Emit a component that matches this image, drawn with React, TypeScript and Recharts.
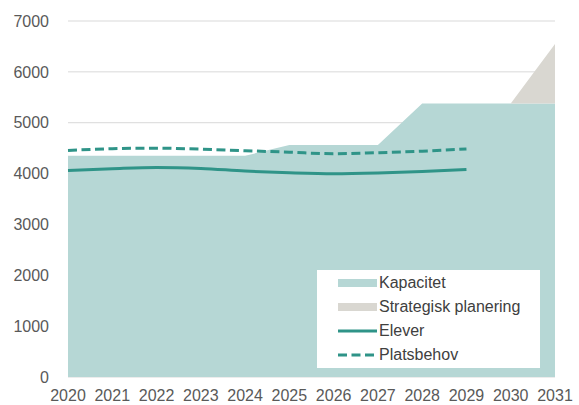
import { ComposedChart, Area, Line, XAxis, YAxis, CartesianGrid } from "recharts"

const years = [2020, 2021, 2022, 2023, 2024, 2025, 2026, 2027, 2028, 2029, 2030, 2031]
const kapacitet = [4350, 4350, 4350, 4350, 4350, 4560, 4560, 4560, 5380, 5380, 5380, 5380]
const strategisk = [0, 0, 0, 0, 0, 0, 0, 0, 0, 0, 0, 1170]
const elever = [4060, 4095, 4120, 4100, 4050, 4015, 3995, 4010, 4040, 4080, null, null]
const platsbehov = [4455, 4490, 4500, 4480, 4450, 4420, 4390, 4410, 4440, 4485, null, null]
const yTicks = [0, 1000, 2000, 3000, 4000, 5000, 6000, 7000]

const seriesNames = ["Kapacitet", "Strategisk planering", "Elever", "Platsbehov"]

const AREA_COLOR = "#b6d7d5"
const PLAN_COLOR = "#d9d7d1"
const LINE_COLOR = "#2f9488"
const FONT = "'Liberation Sans', Arial, sans-serif"

const data = years.map((year, i) => ({
  year: String(year),
  kapacitet: kapacitet[i],
  strategisk: strategisk[i],
  elever: elever[i],
  platsbehov: platsbehov[i],
}))

function LegendIcon({ index }: { index: number }) {
  if (index === 0) return <div style={{ width: 39, height: 8, background: AREA_COLOR }} />
  if (index === 1) return <div style={{ width: 39, height: 8, background: PLAN_COLOR }} />
  return (
    <svg width={39} height={6}>
      <line
        x1={0}
        y1={3}
        x2={39}
        y2={3}
        stroke={LINE_COLOR}
        strokeWidth={3}
        strokeDasharray={index === 3 ? "9 4.5" : undefined}
      />
    </svg>
  )
}

export default function App() {
  return (
    <div style={{ position: "absolute", left: 0, top: 0, width: 579, height: 405, background: "#fff", fontFamily: FONT }}>
      <ComposedChart width={579} height={405} data={data} margin={{ top: 21, right: 24, bottom: 0, left: 0 }}>
        <CartesianGrid horizontal vertical={false} stroke="#d9d9d9" strokeWidth={1} />
        <XAxis
          dataKey="year"
          type="category"
          scale="point"
          padding={{ left: 0, right: 0 }}
          interval={0}
          height={28}
          axisLine={false}
          tickLine={false}
          tickSize={0}
          tickMargin={13}
          tick={{ fill: "#595959", fontSize: 16, fontFamily: FONT }}
        />
        <YAxis
          domain={[0, 7000]}
          ticks={yTicks}
          width={68}
          axisLine={false}
          tickLine={false}
          tickSize={0}
          tickMargin={19}
          tick={{ fill: "#595959", fontSize: 16, fontFamily: FONT }}
        />
        <Area
          dataKey="kapacitet"
          stackId="cap"
          type="linear"
          fill={AREA_COLOR}
          fillOpacity={1}
          stroke="none"
          isAnimationActive={false}
        />
        <Area
          dataKey="strategisk"
          stackId="cap"
          type="linear"
          fill={PLAN_COLOR}
          fillOpacity={1}
          stroke="none"
          isAnimationActive={false}
        />
        <Line
          dataKey="elever"
          type="monotone"
          stroke={LINE_COLOR}
          strokeWidth={3}
          dot={false}
          activeDot={false}
          isAnimationActive={false}
        />
        <Line
          dataKey="platsbehov"
          type="monotone"
          stroke={LINE_COLOR}
          strokeWidth={3}
          strokeDasharray="9 4.5"
          dot={false}
          activeDot={false}
          isAnimationActive={false}
        />
      </ComposedChart>
      {/* legend box sits inside the plot, bottom right */}
      <div
        style={{
          position: "absolute",
          left: 317,
          top: 270,
          width: 223,
          height: 98,
          background: "#fff",
          boxSizing: "border-box",
          paddingTop: 1,
          paddingLeft: 21,
        }}
      >
        {seriesNames.map((name, i) => (
          <div key={name} style={{ display: "flex", alignItems: "center", height: 24 }}>
            <LegendIcon index={i} />
            <span style={{ marginLeft: 2, fontSize: 16, color: "#404040", whiteSpace: "nowrap" }}>{name}</span>
          </div>
        ))}
      </div>
    </div>
  )
}
